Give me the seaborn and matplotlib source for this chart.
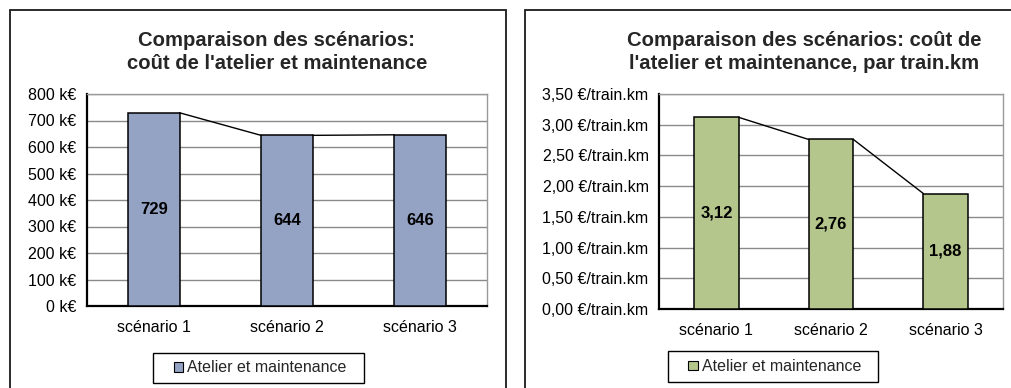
import matplotlib
matplotlib.use("Agg")
import matplotlib.pyplot as plt
from matplotlib.patches import Rectangle
from matplotlib.legend_handler import HandlerPatch
from matplotlib.ticker import FuncFormatter, MultipleLocator
import numpy as np
import pandas as pd
import seaborn as sns

# Data
scenarios = ["scénario 1", "scénario 2", "scénario 3"]
cost_keur = [729, 644, 646]
cost_per_trainkm = [3.12, 2.76, 1.88]
series_name = "Atelier et maintenance"

title_left = "Comparaison des scénarios:\ncoût de l'atelier et maintenance"
title_right = "Comparaison des scénarios: coût de\nl'atelier et maintenance, par train.km"

sns.set_theme(style="white")
plt.rcParams["font.family"] = ["Liberation Sans", "DejaVu Sans"]

W, H = 1012, 388
fig = plt.figure(figsize=(W / 100, H / 100), dpi=100)


def fx(px):
    return px / W


def fy(py):
    return 1 - py / H


def axes_px(x0, y0, x1, y1):
    return fig.add_axes([fx(x0), fy(y1), (x1 - x0) / W, (y1 - y0) / H])


def style_axes(ax, ymax, ystep, fmt):
    ax.set_xlim(-0.5, 2.5)
    ax.set_ylim(0, ymax)
    ax.yaxis.set_major_locator(MultipleLocator(ystep))
    ax.yaxis.set_major_formatter(FuncFormatter(fmt))
    ax.grid(axis="y", color="#8a8a8a", linewidth=1.0, zorder=0)
    ax.set_axisbelow(True)
    for side in ("top", "right"):
        ax.spines[side].set_color("#9a9a9a")
        ax.spines[side].set_linewidth(1.0)
    for side in ("left", "bottom"):
        ax.spines[side].set_color("black")
        ax.spines[side].set_linewidth(1.6)
    ax.tick_params(axis="y", which="major", direction="out", length=4.5,
                   width=1.2, color="black", labelsize=11.5, pad=3)
    ax.tick_params(axis="x", which="major", length=0, labelsize=11.5, pad=10)
    ax.set_xticks([-0.5, 0.5, 1.5, 2.5], minor=True)
    ax.tick_params(axis="x", which="minor", direction="out", length=4.5,
                   width=1.2, color="black")
    ax.set_xlabel("")
    ax.set_ylabel("")
    for lab in ax.get_yticklabels() + ax.get_xticklabels():
        lab.set_color("black")


def draw_panel(ax, values, color, labels):
    df = pd.DataFrame({"scenario": scenarios, "value": values})
    sns.barplot(data=df, x="scenario", y="value", color=color, width=0.39,
                edgecolor="black", linewidth=1.1, saturation=1, ax=ax,
                zorder=3)
    bars = ax.patches
    # series lines linking the tops of neighbouring bars
    for a, b in zip(bars[:-1], bars[1:]):
        ax.plot([a.get_x() + a.get_width(), b.get_x()],
                [a.get_height(), b.get_height()],
                color="black", linewidth=1.0, zorder=4)
    ax.bar_label(ax.containers[0], labels=labels, label_type="center",
                 fontsize=12, fontweight="bold", color="black")


# Left panel: cost in k€
axL = axes_px(87, 94, 487, 306)
draw_panel(axL, cost_keur, "#94a2c3", [str(v) for v in cost_keur])
style_axes(axL, 800, 100, lambda v, p: f"{v:.0f} k€")

# Right panel: cost per train.km
axR = axes_px(659, 94, 1003, 309)
draw_panel(axR, cost_per_trainkm, "#b4c68b",
           [f"{v:.2f}".replace(".", ",") for v in cost_per_trainkm])
style_axes(axR, 3.5, 0.5,
           lambda v, p: f"{v:.2f}".replace(".", ",") + " €/train.km")

# Titles
fig.text(fx(277), fy(52), title_left, ha="center", va="center",
         fontsize=14.6, fontweight="bold", linespacing=1.3)
fig.text(fx(804), fy(52), title_right, ha="center", va="center",
         fontsize=14.6, fontweight="bold", linespacing=1.3)

# Chart frames
fig.add_artist(Rectangle((fx(10), -0.2), fx(506) - fx(10), fy(10) + 0.2,
                         transform=fig.transFigure, fill=False,
                         edgecolor="#1a1a1a", linewidth=1.3))
fig.add_artist(Rectangle((fx(525), -0.2), 0.6, fy(10) + 0.2,
                         transform=fig.transFigure, fill=False,
                         edgecolor="#1a1a1a", linewidth=1.3))


def square_key(legend, orig_handle, xdescent, ydescent, width, height,
               fontsize):
    # small square key pushed to the right of the handle box
    side = height * 0.95
    return Rectangle((width - side - xdescent, -ydescent + (height - side) / 2),
                     side, side)


# Legends
for color, cx, cy in (("#94a2c3", 258.5, 368), ("#b4c68b", 773, 366.5)):
    handle = Rectangle((0, 0), 1, 1, facecolor=color, edgecolor="black",
                       linewidth=0.8)
    leg = fig.legend([handle], [series_name + "  "], loc="center",
                     bbox_to_anchor=(fx(cx), fy(cy)), frameon=True,
                     fancybox=False, edgecolor="black", fontsize=11.5,
                     handlelength=1.4, handleheight=0.6, handletextpad=0.25,
                     borderpad=0.5, borderaxespad=0, framealpha=1,
                     handler_map={Rectangle: HandlerPatch(patch_func=square_key)})
    leg.get_frame().set_linewidth(1.0)

fig.savefig("out.png", dpi=100)
